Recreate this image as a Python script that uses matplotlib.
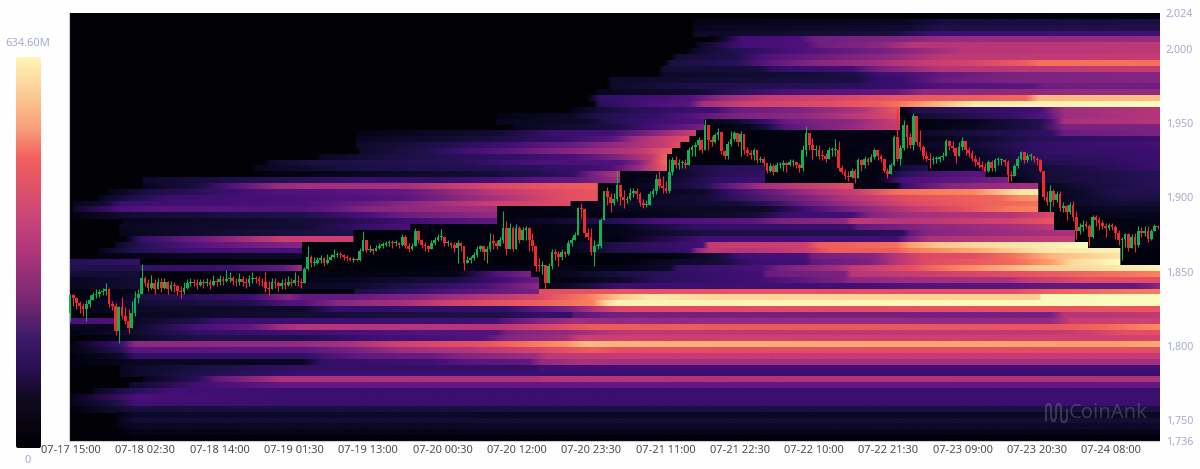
import numpy as np
import matplotlib
matplotlib.use("Agg")
import matplotlib.pyplot as plt
from matplotlib.colors import LinearSegmentedColormap, Normalize
from matplotlib.image import NonUniformImage
from matplotlib.patches import FancyBboxPatch, Rectangle
from matplotlib.ticker import FuncFormatter

plt.rcParams['font.family'] = ['Noto Sans', 'DejaVu Sans']

# x axis is hours since the left edge of the chart
tick_hours = [0.3, 11.8, 23.3, 34.8, 46.3, 57.8, 69.3, 80.8, 92.3, 103.8, 115.3, 126.8, 138.3, 149.8, 161.3]
tick_labels = ["07-17 15:00", "07-18 02:30", "07-18 14:00", "07-19 01:30", "07-19 13:00",
               "07-20 00:30", "07-20 12:00", "07-20 23:30", "07-21 11:00", "07-21 22:30",
               "07-22 10:00", "07-22 21:30", "07-23 09:00", "07-23 20:30", "07-24 08:00"]
price_ticks = [1736, 1750, 1800, 1850, 1900, 1950, 2000, 2024]
band_top = 2024
band_step = 3.945

first_open = 1822
closes = [
    1834,1832,1829,1827,1825,1828.5,1831,1834,1835,1836,
    1837,1838,1828,1827,1810,1826,1820,1817,1812,1822,
    1832,1835,1846,
    1842,1839,1842,1838,1843,1839,1843,1838,1841,1840,1837,1836,1839,1842,1843,1842,1841,1843,1842,1843,
    1841,1844,1843,1845,1844,1845,1846,1844,1843,1845,1843,1842,1845,1846,1845,1844,1843,1839,1838,1843,
    1842,1840,1842,1841,1843,1842,1844,1843,1842,
    1852,1859.5,1855.5,1856,1857.5,1859,1856,1857.5,1860,1861,
    1861.5,1861,1859.5,1859,1858,1858,1857.5,1864,1871,1864.5,
    1865,1864,1866,1867.5,1868,1869,1869.5,1869,1869.5,1868,
    1873.5,1867.5,1865,1867,1877,1871,1868,1867,1865.5,1869,
    1871,1873,1873.5,1869,1869,1868,1866,1869,1867,1856,
    1858,1859,1861,1865,1867,1863,1865.5,1870,1869.5,1867.5,
    1871,1879,1865.5,1879.5,1865,1879,1871,1878,1879,1871,
    1867,1854,1853.5,1854.5,1842.5,1854,1863,1862,1859.5,1863,
    1862,1869,1871.5,1874.5,1892.5,1892,1876,1873.5,1863,1867,
    1867.5,1884.5,1904.5,1900,1896,1899,1908,1900,1898,
    1899,1903,1904.5,1902.5,1896,1894.5,1895,1902,1904,1912.5,
    1907.5,1906.5,1904.5,1917,1925,1921.5,1923,1923,1922,1931.5,
    1934,1935,1938.5,1931.5,1948.5,1938.5,1937.5,1942,1944,1931,
    1927.5,1936,1939.5,1943,1937,1942.5,1931.5,1930,1928.5,1931.5,
    1925,1926,1923,1918,1921,1917,1921.5,1921.5,1923,1922,
    1923.5,1923.5,1921.5,1919.5,1931.5,1943,1935,1931.5,1931.5,1928,
    1927.5,1926,1931.5,1931.5,1931.5,1920,1917,1914,1913.5,1918,
    1913,1925,1921.5,1926,1924,1927,1931.5,1927.5,1926,1918,
    1916,1921.5,1940.5,1926,
    1933,1948.5,1940.5,1935,1955,1937,1933.5,1928,1926,1925,
    1925.5,1926,1927,1927.5,1938,1934.5,1933,1928,1933.5,1938,
    1931.5,1930,1926,1923.5,1922,1920.5,1918,1923.5,1919.5,1925,
    1925,1925,1923.5,1915,1914,1921,1926,1930.5,1925,1927.5,
    1927.5,1925.5,1925,1918,1900,1896.5,1904.5,1898,1902.5,1893,
    1894,1890,1895,1886.5,1877.5,1880,1881.5,1881,1873.5,1887,
    1885,1883,1881,1879.5,1881.5,1880,1876,1871,1872,1875.5,
    1866,1873.5,1868,1877.5,1876,1877.5,1872,1877,1880.5,1880,
]
highs = [
    1835,1835,1833,1830,1829,1831,1834,1836,1838,1838,
    1839,1842,1839,1830,1829,1827,1833,1826,1825,1830,
    1837,1838,1855,
    1847,1845,1848,1845,1846,1846,1846,1844,1844,1843,1841,1840,1843,1845,1846,1845,1845,1845,1845,1846,
    1845,1848,1846,1848,1847,1851,1850,1847,1846,1849,1847,1846,1848,1850,1847,1847,1846,1850,1844,1846,
    1846,1844,1845,1846,1847,1846,1850,1848,1846,
    1853,1867.5,1861,1860,1859.5,1861,1860,1861.5,1862,1865,
    1863,1863,1862,1861,1860,1860,1859,1866,1877,1871.5,
    1868,1866,1868,1869.5,1870,1870.5,1871,1871,1871.5,1870,
    1875.5,1874.5,1869,1869,1879,1878,1872,1870,1868,1871,
    1873,1875,1878.5,1873.5,1871,1870,1870,1871,1870,1867,
    1860.5,1860.5,1863,1867,1868,1867.5,1867.5,1876,1875.5,1871,
    1873,1891,1884,1883,1881,1882,1880.5,1880,1881,1880,
    1876,1867.5,1859,1857,1854.5,1856,1865.5,1865.5,1864,1865,
    1864,1871,1873.5,1876.5,1893.5,1896,1891.5,1879.5,1879.5,1871,
    1869,1886,1904.5,1907,1903,1903,1917.5,1908,1905,
    1901,1906,1906.5,1906,1903.5,1899,1898,1904.5,1906.5,1915.5,
    1917.5,1914,1911,1926,1927,1928,1926,1925,1926,1934,
    1935.5,1937,1940.5,1939,1953,1945,1941,1943,1946.5,1943,
    1932,1938,1944.5,1944.5,1942,1944.5,1940,1934,1931.5,1933,
    1931.5,1928,1927,1923,1923,1922.5,1923.5,1923.5,1925,1924,
    1925.5,1925.5,1924,1923,1935,1948,1941,1940,1935,1935,
    1931.5,1930,1933.5,1934,1939,1938,1922,1919,1917.5,1920,
    1919,1926.5,1926,1928,1927,1929,1933,1931,1929,1926,
    1920,1923,1942,1960,
    1935,1952,1948.5,1943.5,1956.5,1945,1945,1935,1931,1929.5,
    1927.5,1928,1928,1930.5,1939,1938.5,1938,1933.5,1937,1940.5,
    1938,1933.5,1932,1928.5,1927,1924.5,1923,1925,1925,1926.5,
    1927,1926.5,1926,1925,1918,1922.5,1928,1931,1930.5,1929.5,
    1929.5,1928,1927,1926,1918,1904.5,1908,1905.5,1904.5,1904,
    1897,1895,1897,1897.5,1891,1883,1884.5,1884,1882,1888,
    1888,1887,1884.5,1883,1883,1883,1881.5,1878,1873.5,1876,
    1876,1875.5,1876,1881,1880,1880.5,1880.5,1878.5,1882,1881,
]
lows = [
    1817,1827,1825,1822,1820,1817,1826,1831,1832,1833,
    1834,1834,1826,1824,1807,1802,1818,1815,1809,1815,
    1820,1829,1835,
    1840,1837,1838,1835,1838,1836,1838,1835,1837,1836,1834,1832,1835,1838,1840,1840,1838,1840,1839,1840,
    1838,1840,1840,1841,1841,1843,1843,1841,1840,1841,1840,1839,1840,1842,1842,1841,1840,1836,1834,1838,
    1839,1837,1838,1838,1840,1840,1841,1840,1839,
    1842,1851,1853,1854,1855,1856,1854,1855,1858,1859,
    1859.5,1859,1857.5,1857,1857,1856.5,1857,1857,1864,1863,
    1863,1862,1864,1865.5,1866,1867,1867.5,1866,1867.5,1866,
    1867.5,1866,1863.5,1864.5,1868,1869,1866,1864,1863.5,1865.5,
    1868,1870.5,1871,1867.5,1867,1866,1863.5,1856,1864,1851,
    1855.5,1856,1858,1860,1864,1857.5,1855.5,1864,1865.5,1865.5,
    1867,1869.5,1861,1871,1864,1869.5,1869,1871,1871,1864,
    1864,1850.5,1850.5,1848.5,1838.5,1842,1852,1858,1853.5,1858,
    1860,1861,1867.5,1871,1874.5,1886,1873.5,1871,1861,1854,
    1865.5,1866,1884.5,1894.5,1890,1895,1897.5,1895,1892.5,
    1896,1898,1900.5,1899,1894,1892.5,1893.5,1894.5,1900,1902.5,
    1906,1903,1903,1903,1915,1919.5,1919,1919.5,1919.5,1922,
    1928,1928,1931.5,1929.5,1931.5,1931.5,1934.5,1936.5,1938.5,1929,
    1925.5,1926,1934.5,1938,1934.5,1927.5,1929,1928,1926,1925,
    1923,1923.5,1921,1916.5,1917,1915,1917,1919.5,1917.5,1917,
    1921,1921,1919.5,1917,1918,1928,1932,1926,1927.5,1926,
    1925,1924,1926,1927.5,1928,1918,1915.5,1912.5,1911,1913,
    1909.5,1915,1917.5,1920,1922,1924,1926,1925,1924,1917,
    1913,1915.5,1921,1924.5,
    1921.5,1931.5,1933,1933,1931.5,1935,1931.5,1926,1924.5,1920,
    1922.5,1923,1924,1925,1927.5,1931.5,1930.5,1923,1927.5,1931.5,
    1928.5,1927,1924.5,1921,1920,1918.5,1917,1917,1917.5,1917.5,
    1921.5,1922,1921,1910,1911,1914,1920,1925,1923,1923.5,
    1925,1923.5,1922,1917,1898.5,1894.5,1890,1894,1896.5,1891,
    1890,1885,1888.5,1884,1872,1875.5,1877.5,1879,1867.5,1872.5,
    1881,1878,1878.5,1873,1878,1878,1872,1868,1857.5,1866.5,
    1864,1866,1863,1866.5,1873,1874,1870,1871.5,1877.5,1878.5,
]

# one row per price band from the top down: (hour, share of the colour scale in %)
bands = [
    [(129,0),(135,3),(169,4)],
    [(96,0),(97,5),(129,7),(135,11),(169,12)],
    [(96,0),(97,6),(129,9),(135,13),(169,14)],
    [(96,0),(97,8),(128,12),(133,20),(169,22)],
    [(99,0),(101,8),(104,22),(113,24),(115,33),(128,37),(135,42),(169,42)],
    [(96,0),(98,8),(104,22),(114,25),(116,33),(126,40),(130,50),(169,52)],
    [(95,0),(97,8),(104,16),(112,24),(125,34),(132,42),(138,50),(169,52)],
    [(93,0),(94,10),(103,13),(107,24),(113,30),(128,42),(135,52),(169,54)],
    [(92,0),(93,12),(103,16),(108,28),(115,38),(125,46),(132,54),(140,58),(148,66),(150,70),(169,70)],
    [(91,0),(92,10),(107,11),(109,18),(121,22),(125,35),(135,50),(169,54)],
    [(91,0),(92,8),(113,10),(122,13),(125,21),(129,23),(135,30),(146,36),(169,38)],
    [(83,0),(84,8),(100,10),(122,12),(125,18),(129,20),(135,32),(146,36),(169,38)],
    [(83,0),(84,8),(97,13),(122,17),(129,20),(135,26),(149,28),(151,33),(169,33)],
    [(81,0),(82,6),(97,9),(103,16),(110,24),(128,30),(132,40),(169,42)],
    [(80,0),(82,18),(90,22),(96,26),(101,42),(108,54),(118,58),(128,64),(135,66),(148,68),(150,85),(169,87)],
    [(81,0),(82,16),(90,24),(96,27),(98,46),(105,57),(115,60),(125,66),(128,70),(132,80),(140,96),(169,100)],
    [(77,0),(78,5),(82,10),(88,16),(100,22),(103,32),(113,37),(122,48),(128.5,65),(128.6,1),(131,14),(150,22),(154,45),(169,50)],
    [(65.8,0),(66.3,4),(78,8),(82,14),(90,18),(96,26),(103,36),(113,40),(122,52),(128.5,62),(128.6,1),(132,10),(145,18),(151,26),(154,44),(169,50)],
    [(65.8,0),(66.3,6),(80,8),(84,15),(90,20),(98.2,26),(98.3,2),(103,8),(108,20),(111,32),(121,40),(128.5,56),(128.6,1),(140,6),(150,14),(152,24),(154,48),(169,50)],
    [(68,0),(69,6),(84,12),(90,22),(98.2,34),(98.3,2),(105,6),(108,12),(111,28),(121,42),(128.5,55),(128.6,1),(140,7),(150,14),(154,36),(169,36)],
    [(44,0),(44.6,4),(66,9),(75,20),(84,22),(90,36),(96.9,56),(97,2),(128.5,5),(128.6,6),(145,14),(152,18),(154,32),(169,36)],
    [(44,0),(44.6,6),(60,10),(76,18),(84,28),(88,46),(95.9,62),(96,2),(128.5,4),(128.6,3),(140,8),(150,16),(169,20)],
    [(44,0),(44.6,8),(58,14),(68,22),(78,32),(86,44),(92,54),(94.5,62),(94.6,2),(128,5),(140,10),(150,18),(169,22)],
    [(44.5,0),(45,8),(55,14),(60,20),(68,28),(80,42),(88,52),(93.2,66),(93.3,2),(128,4),(140,8),(150,18),(169,20)],
    [(38,0),(39,7),(50,12),(68,18),(78,24),(84,35),(90,52),(92.4,68),(92.5,2),(128,4),(140,6),(150,16),(169,20)],
    [(30,0),(31,8),(37,12),(60,16),(72,24),(85,25),(88,36),(91,60),(92.4,70),(92.5,2),(110,4),(128,5),(140,6),(150,14),(169,20)],
    [(28,0),(29,6),(44,12),(70,16),(80,20),(84,25),(88,42),(92.4,66),(92.5,3),(95,10),(102,16),(107.6,16),(107.7,3),(128,4),(128.7,10),(132.8,14),(132.9,3),(150,10),(169,20)],
    [(28,0),(29,3),(36,4),(50,8),(65,10),(72,14),(78,18),(81,35),(85.2,50),(85.3,3),(93,6),(101,16),(107.6,18),(107.7,3),(125,4),(129,16),(136,26),(141.7,28),(141.8,3),(150,10),(169,16)],
    [(11,0),(11.5,8),(28,14),(36,16),(46,20),(56,18),(65,22),(73,28),(79,30),(85.2,44),(85.3,3),(93,8),(101,18),(107.6,20),(107.7,3),(125,4),(129,24),(140,30),(145.3,34),(145.4,3),(150,10),(169,16)],
    [(11,0),(11.5,6),(20,12),(25,25),(32,42),(36,46),(52,46),(66,60),(77,65),(81.7,66),(81.8,3),(86,4),(98,14),(102,30),(107,45),(121.3,62),(121.4,3),(128,5),(129,20),(136,38),(145,44),(149.9,46),(150,3),(156,10),(169,16)],
    [(5.8,0),(6,4),(12,12),(25,20),(33,26),(36,25),(52,30),(66,52),(77,62),(81.7,64),(81.8,3),(98,8),(103,20),(110,34),(116,48),(122,56),(128,70),(140,75),(147,95),(149.9,96),(150,2),(156,8),(162,14),(169,14)],
    [(4.3,0),(4.6,6),(10,14),(15,20),(36,24),(45,26),(52,28),(64,44),(77,62),(81.7,64),(81.8,3),(98,10),(102,16),(114,36),(121,50),(130,62),(144,68),(147,76),(149.9,78),(150,2),(156,8),(162,12),(169,12)],
    [(0.4,0),(0.6,6),(5,8),(8,20),(36,24),(46,32),(56,44),(66,56),(76,60),(77.5,60),(77.6,3),(85,8),(103,10),(107.5,16),(114,32),(121,45),(130,60),(140,66),(149.9,70),(150,2),(156,8),(162,10),(169,10)],
    [(0.4,0),(0.6,8),(8,24),(15,27),(36,26),(41,30),(46,38),(61,44),(66.1,46),(66.2,3),(85,6),(108,8),(114,22),(121,36),(130,52),(138,62),(146,72),(149.9,74),(150,2),(156,6),(169,8)],
    [(0.4,0),(0.6,4),(10,10),(36,14),(46,24),(51,32),(66.1,42),(66.2,3),(85,4),(93,6),(106,10),(111,20),(121,22),(124,38),(130,46),(146,50),(152.3,60),(152.4,2),(160,6),(169,5)],
    [(8,0),(8.5,6),(36,10),(53,22),(66.1,30),(66.2,3),(85,15),(92,24),(106,28),(110,36),(120,40),(121,52),(130,50),(146,58),(152.3,64),(152.4,2),(169,5)],
    [(7.4,0),(8,7),(36,10),(45,18),(52.7,24),(52.8,3),(85,5),(89,9),(98,18),(121,20),(122,30),(130,36),(134,40),(146,46),(152.3,52),(152.4,2),(169,4)],
    [(7.4,0),(8,6),(36,12),(43.9,14),(44,2),(85,5),(98,12),(119,14),(129,16),(130,30),(133,38),(146,44),(155.6,48),(155.7,2),(169,4)],
    [(8.4,0),(9,6),(11,18),(20,32),(33,55),(43.9,56),(44,2),(85,4),(98,22),(128,22),(130,36),(133,48),(155.6,54),(155.7,2),(169,4)],
    [(6.8,0),(7.2,8),(11,15),(20,27),(33,36),(35.9,38),(36,2),(72,3),(78,6),(85,14),(98,22),(99,54),(114,56),(116,66),(128,70),(130,80),(134,88),(140,92),(150,96),(157.6,100),(157.7,3),(169,4)],
    [(4.3,0),(4.6,6),(11,16),(20,22),(35.9,24),(36,2),(72,3),(78,5),(85,14),(96,20),(97,38),(99,52),(105,50),(114,55),(118,66),(128,66),(130,72),(140,82),(150,95),(162.6,98),(162.7,2),(169,3)],
    [(4,0),(4.3,4),(35.9,8),(36,2),(85,2),(93,3),(100,10),(104,22),(114,24),(115,34),(124,38),(128,50),(132,60),(140,62),(146,70),(152,85),(162.6,95),(162.7,2),(169,3)],
    [(0.2,16),(10.9,18),(11,2),(35.9,3),(36,2),(85,2),(94,8),(100,10),(106,20),(114,22),(115,30),(124,36),(128,50),(132,60),(146,68),(152,80),(155,92),(162.6,100),(162.7,2),(169,3)],
    [(0.2,14),(10.9,14),(11,18),(24,20),(33,30),(35.9,44),(36,2),(85,5),(93,8),(94,18),(107,24),(110,35),(119,45),(121,52),(130,62),(136,72),(150,90),(169,98)],
    [(0.2,10),(10.9,10),(11,2),(60,5),(66,25),(70.8,35),(71.4,36),(71.5,2),(85,12),(95,18),(107,22),(108,32),(120,36),(121,50),(130,54),(146,62),(169,74)],
    [(0.2,6),(10.9,10),(11,2),(44,6),(60,12),(67,22),(72.6,32),(72.7,3),(79,5),(85,8),(91,16),(107,22),(120,36),(121,40),(130,45),(146,48),(147,52),(158,62),(169,62)],
    [(0.2,6),(10.9,10),(11,3),(44,8),(52,14),(64,24),(72.6,40),(72.7,3),(79,10),(85,20),(121,22),(130,26),(146,28),(152,30),(165,30),(169,40)],
    [(0.2,3),(10.9,5),(11,3),(44,3),(44.2,12),(52,18),(59,25),(72.6,35),(72.7,62),(85,64),(146,62),(150,66),(165,72),(169,72)],
    [(0.2,4),(8,5),(11,12),(28,20),(34,38),(36,30),(43,30),(54,38),(64,50),(72,58),(80,72),(85,88),(90,96),(100,92),(150,90),(150.5,99),(169,100)],
    [(0.2,3),(11,10),(28,14),(34,26),(36,26),(42,40),(51,46),(60,58),(72,66),(81,74),(83,92),(85,98),(169,100)],
    [(0.2,3),(11,8),(36,8),(41,18),(67,18),(72,28),(77,35),(82,52),(85,60),(169,64)],
    [(8,0),(8.7,6),(36,10),(54,12),(67,14),(73,18),(77.7,18),(78,28),(85,34),(152,35),(154,50),(169,52)],
    [(0.2,24),(7,24),(7.1,3),(11,8),(20,14),(23,20),(36,20),(66,22),(67,26),(72,36),(78,45),(85,42),(152,42),(155,55),(169,56)],
    [(0.2,6),(7,6),(7.1,3),(11.5,10),(20,24),(28,30),(33,46),(36,50),(66,50),(73,58),(81,66),(152,64),(160,68),(169,76)],
    [(0.2,4),(11,10),(20,18),(36,22),(53,26),(66,26),(68,36),(77,42),(85,52),(150,52),(158,56),(163,62),(169,62)],
    [(1.7,0),(2,2),(8,5),(11,8),(20,14),(36,14),(45,20),(64,26),(68,38),(77,46),(79,55),(85,56),(160,56),(169,58)],
    [(0.2,4),(7.9,20),(10.2,40),(36,42),(44,48),(50,56),(65,64),(70,70),(77,78),(80,86),(85,84),(160,80),(169,82)],
    [(0.2,4),(7.4,14),(10.2,28),(36,28),(45,36),(51,44),(62,50),(72,58),(81,66),(85,62),(169,62)],
    [(0.2,3),(7.9,8),(10.2,18),(36,18),(45,30),(56,32),(61,38),(72,44),(74,52),(85,54),(169,54)],
    [(0.2,3),(7.1,5),(10.2,7),(36,6),(39,18),(56,22),(62,28),(71,30),(73,42),(80,48),(85,46),(169,46)],
    [(7.4,0),(8,6),(10.2,8),(20,12),(36,18),(72,18),(73,22),(169,22)],
    [(7.4,0),(8,6),(10.2,8),(20,14),(36,20),(169,20)],
    [(11,0),(11.5,6),(20,16),(23,30),(33,48),(72,48),(73,50),(169,48)],
    [(9,0),(9.4,8),(20,22),(33,30),(169,30)],
    [(3.4,0),(3.7,6),(10.2,16),(15.6,22),(36,20),(169,20)],
    [(0.2,5),(10.2,24),(36,20),(169,20)],
    [(0.2,5),(7.9,14),(10.2,22),(36,20),(169,20)],
    [(0.2,2),(10.2,12),(169,12)],
    [(7.2,0),(7.4,4),(10.2,8),(169,7)],
    [(7.2,0),(7.4,5),(10.2,10),(169,10)],
    [(7.2,0),(7.4,4),(10.2,7),(169,8)],
    [(7.2,0),(7.4,2),(10.2,5),(169,5)],
    [(0.2,1),(10.2,2),(169,2)],
]

bar_positions = [0, 0.12, 0.2, 0.28, 0.38, 0.5, 0.58, 0.74, 0.81, 0.89, 1]
bar_colors = ["#020104", "#100a20", "#2a1052", "#3d1a6b", "#7a2a72", "#b0357a",
              "#c8457a", "#f25f5c", "#f89a7a", "#fcc48f", "#fff5b8"]

W, H = 1200, 469
fig = plt.figure(figsize=(W / 100, H / 100), dpi=100, facecolor="#fefefe")
ax = fig.add_axes([69 / W, (H - 441) / H, 1090 / W, 428 / H])
ax.set_facecolor("#020106")
ax.set_xlim(0, 168.7)
ax.set_ylim(1736, 2024)

norm = Normalize(0, 100)
for r, band in enumerate(bands):
    hours = [p[0] for p in band]
    vals = [p[1] for p in band]
    top = band_top - band_step * r
    bot = top - band_step
    im = NonUniformImage(ax, cmap="magma", norm=norm, interpolation="bilinear")
    im.set_data(hours, [bot, top], np.array([vals, vals]))
    ax.add_image(im)
    im.set_zorder(1)
    # the image fills the axes beyond its last columns, so cut it to the band
    im.set_clip_path(Rectangle((hours[0], bot), hours[-1] - hours[0], band_step, transform=ax.transData))

n = len(closes)
xs = np.linspace(0.15, 168.5, n)
opens = [first_open] + closes[:-1]
for x, o, c, hi, lo in zip(xs, opens, closes, highs, lows):
    col = "#12b050" if c >= o else "#ee2a2e"
    ax.vlines(x, min(lo, o, c), max(hi, o, c), color=col, lw=0.8, zorder=3)
    ax.bar(x, max(abs(c - o), 0.8), bottom=min(o, c), width=0.42, color=col, lw=0, zorder=4)

ax.set_xlim(0, 168.7)
ax.set_ylim(1736, 2024)
ax.set_xticks(tick_hours)
ax.set_xticklabels(tick_labels, fontsize=8, color="#4c4c4c")
ax.yaxis.tick_right()
ax.set_yticks(price_ticks)
ax.yaxis.set_major_formatter(FuncFormatter(lambda v, _: f"{int(v):,}"))
ax.tick_params(axis="y", length=0, pad=5, labelsize=7.7, labelcolor="#a6acc9")
ax.tick_params(axis="x", length=0, pad=3)
for side in ["top", "right"]:
    ax.spines[side].set_visible(False)
for side in ["left", "bottom"]:
    ax.spines[side].set_color("#c9c9cf")
    ax.spines[side].set_linewidth(0.8)

# watermark
ax.text(0.953, 0.0654, "CoinAnk", transform=ax.transAxes, fontsize=14.5, fontweight="bold",
        color="#8d8d99", alpha=0.34, va="center", ha="center", family="Noto Sans", zorder=5)
logo_x = [1046, 1046, 1047.5, 1049.5, 1051, 1051, 1052.5, 1054.5, 1056, 1056, 1057.5, 1059.5, 1061, 1061, 1062.5, 1065, 1067, 1067]
logo_y = [420, 407, 404, 404, 407, 417, 421, 421, 417, 407, 404, 404, 407, 419, 422, 422, 419, 410]
fig.add_artist(plt.Line2D([v / W for v in logo_x], [(H - v) / H for v in logo_y],
                          color="#8d8d99", alpha=0.34, lw=1.5, transform=fig.transFigure, zorder=6))

# colour strip
cax = fig.add_axes([16 / W, (H - 448) / H, 25 / W, 391 / H])
cax.axis("off")
strip = LinearSegmentedColormap.from_list("strip", list(zip(bar_positions, bar_colors)))
img = cax.imshow(np.linspace(1, 0, 391).reshape(-1, 1), aspect="auto", cmap=strip,
                 vmin=0, vmax=1, extent=[0, 25, 0, 391])
clip = FancyBboxPatch((0, 0), 25, 391, boxstyle="round,pad=0,rounding_size=2",
                      transform=cax.transData, fc="none", ec="none")
cax.add_patch(clip)
img.set_clip_path(clip)

fig.text(28 / W, (H - 43) / H, "634.60M", ha="center", va="center", fontsize=8, color="#a6acc9")
fig.text(28 / W, (H - 460) / H, "0", ha="center", va="center", fontsize=8, color="#a6acc9")

fig.savefig("out.png", dpi=100, facecolor=fig.get_facecolor())
